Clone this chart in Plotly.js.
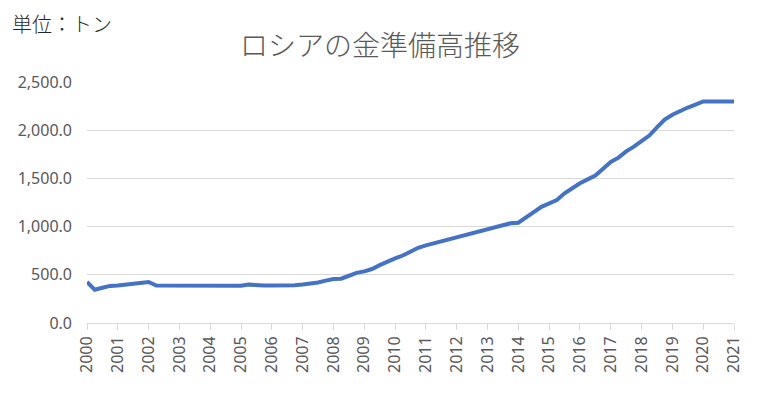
<!DOCTYPE html>
<html>
<head>
<meta charset="utf-8">
<script src="https://cdn.plot.ly/plotly-3.0.1.min.js"></script>
<style>html,body{margin:0;padding:0;background:#fff;}#chart{width:760px;height:400px;}</style>
</head>
<body>
<div id="chart"></div>
<script>
// Year labels (one per year, each year has 4 quarterly points; last point is 2021 Q1)
const years = ["2000","2001","2002","2003","2004","2005","2006","2007","2008","2009","2010",
  "2011","2012","2013","2014","2015","2016","2017","2018","2019","2020","2021"];

// Quarterly gold reserves (tonnes)
const reserves = [
  425, 345, 365, 385,     // 2000
  390, 400, 410, 418,     // 2001
  425, 388, 387, 387,     // 2002
  387, 387, 387, 387,     // 2003
  387, 387, 387, 387,     // 2004
  387, 398, 388, 388,     // 2005
  388, 388, 388, 392,     // 2006
  400, 405, 420, 440,     // 2007
  457, 460, 495, 520,     // 2008
  535, 560, 600, 640,     // 2009
  670, 700, 745, 780,     // 2010
  805, 825, 845, 870,     // 2011
  890, 910, 930, 955,     // 2012
  975, 995, 1015, 1035,   // 2013
  1040, 1090, 1150, 1205, // 2014
  1240, 1276, 1345, 1400, // 2015
  1450, 1490, 1530, 1600, // 2016
  1670, 1715, 1780, 1830, // 2017
  1890, 1945, 2030, 2110, // 2018
  2160, 2200, 2235, 2265, // 2019
  2298, 2298, 2298, 2298, // 2020
  2298                    // 2021
];

const xIdx = reserves.map((_, i) => i);
const tickVals = years.map((_, i) => i * 4);

const trace = {
  x: xIdx,
  y: reserves,
  type: 'scatter',
  mode: 'lines',
  line: {color: '#4472C4', width: 4},
  hoverinfo: 'skip'
};

const tickFont = {family: '"Noto Sans", "Liberation Sans", sans-serif', size: 16, color: '#595959'};

const layout = {
  width: 760,
  height: 400,
  margin: {l: 87, r: 26, t: 82, b: 77},
  paper_bgcolor: '#ffffff',
  plot_bgcolor: '#ffffff',
  showlegend: false,
  title: {
    text: 'ロシアの金準備高推移',
    font: {family: '"Noto Sans CJK JP", sans-serif', size: 28, color: '#595959', weight: 300},
    x: 380 / 760, xanchor: 'center', xref: 'container',
    y: 1 - 46 / 400, yref: 'container', yanchor: 'middle'
  },
  xaxis: {
    range: [0, reserves.length - 1],
    tickmode: 'array',
    tickvals: tickVals,
    ticktext: years,
    tickangle: -90,
    tickfont: tickFont,
    ticks: 'outside',
    ticklen: 6,
    tickcolor: '#d9d9d9',
    tickwidth: 1,
    showline: true,
    linecolor: '#d9d9d9',
    linewidth: 1,
    showgrid: false,
    zeroline: false,
    fixedrange: true
  },
  yaxis: {
    range: [0, 2500],
    dtick: 500,
    tick0: 0,
    tickformat: ',.1f',
    tickfont: tickFont,
    ticks: '',
    ticklabelstandoff: 14,
    showgrid: true,
    gridcolor: '#d9d9d9',
    gridwidth: 1,
    showline: false,
    zeroline: false,
    fixedrange: true
  },
  annotations: [{
    text: '単位：トン',
    xref: 'paper', yref: 'paper',
    x: 0, y: 1,
    xanchor: 'left', yanchor: 'middle',
    xshift: -77, yshift: 59,
    showarrow: false,
    font: {family: '"Noto Sans CJK JP", sans-serif', size: 20, color: '#262626', weight: 300}
  }]
};

Plotly.newPlot('chart', [trace], layout, {displayModeBar: false, staticPlot: true});
</script>
</body>
</html>
